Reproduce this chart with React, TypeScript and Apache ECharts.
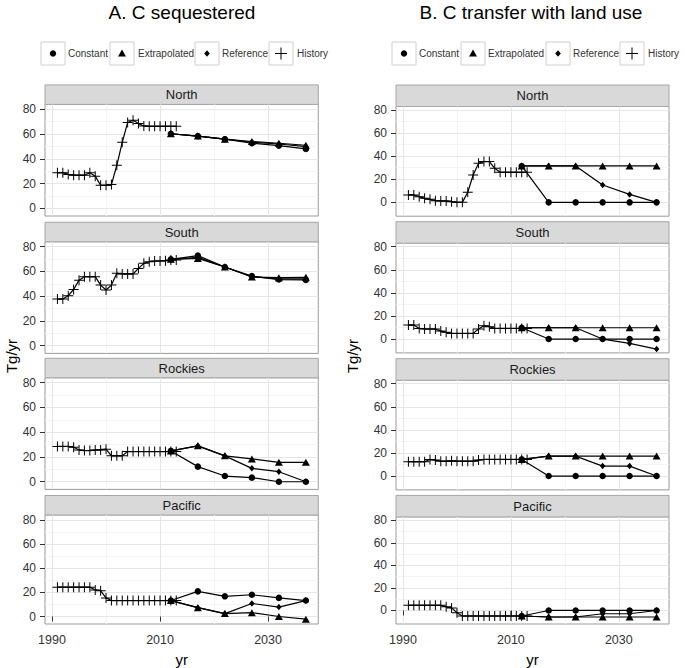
import React, { useEffect, useRef } from "react";
import * as echarts from "echarts";

const historyYears = [1991, 1992, 1993, 1994, 1995, 1996, 1997, 1998, 1999, 2000, 2001, 2002, 2003, 2004, 2005, 2006, 2007, 2008, 2009, 2010, 2011, 2012, 2013];
const projYears = [2012, 2017, 2022, 2027, 2032, 2037];
const regions = ["North", "South", "Rockies", "Pacific"];
const xTicks = [1990, 2010, 2030];
const yTicks = [0, 20, 40, 60, 80];
const xMinor = [2000, 2020];
const yMinor = [10, 30, 50, 70];
const titles = ["A. C sequestered", "B. C transfer with land use"];
const legendNames = ["Constant", "Extrapolated", "Reference", "History"];

// Column A: C sequestered
const histA_North = [28.8, 28.8, 27.4, 26.8, 26.8, 26.8, 28.8, 26, 18.6, 18.6, 19.2, 34.8, 53.4, 69.3, 71.2, 68.5, 66.6, 66.3, 66.3, 66.3, 66.3, 66.3, 66.3];
const constA_North = [60.3, 58.4, 55.9, 52.6, 50.7, 48];
const extrA_North = [60.3, 58.4, 55.9, 54, 52.6, 51];
const refA_North = [60.3, 58.4, 55.9, 53.4, 52, 49.9];

const histA_South = [37.7, 37.7, 40.4, 45.5, 53, 55.8, 55.8, 55.8, 49, 45, 49, 58.5, 58, 58, 58, 62.5, 66.6, 67.9, 68.5, 68.5, 68.7, 69.3, 69.3];
const constA_South = [69.8, 72.8, 63.6, 56.3, 53.5, 53.2];
const extrA_South = [69.8, 70.6, 63.6, 55.5, 55, 55.3];
const refA_South = [69.8, 71.4, 63.6, 55.8, 54, 54];

const histA_Rockies = [28.5, 28.5, 28.5, 27.9, 25.7, 25.2, 25.2, 25.7, 25.7, 26.3, 20.9, 20.9, 20.9, 24.4, 24.4, 24.4, 24.4, 24.4, 24.4, 24.4, 24.4, 24.4, 24.4];
const constA_Rockies = [24.9, 12.2, 4.6, 3.3, 0, 0];
const extrA_Rockies = [24.9, 29, 20.9, 18.4, 15.7, 15.7];
const refA_Rockies = [24.9, 29, 20.9, 10.8, 8.1, 0];

const histA_Pacific = [24.3, 24.3, 24.3, 24.3, 24.3, 24.3, 24.3, 22, 21.3, 15.4, 13.2, 13.2, 13.2, 13.2, 13.2, 13.2, 13.2, 13.2, 13.2, 13.2, 13.2, 13.2, 13.2];
const constA_Pacific = [13.2, 20.8, 16.7, 18, 15.4, 13.2];
const extrA_Pacific = [13.2, 7.3, 2.4, 3.2, 0, -2.2];
const refA_Pacific = [13.2, 7.3, 2.4, 10.8, 7.8, 13.2];

// Column B: C transfer with land use
const histB_North = [6.4, 6.4, 4.9, 3.5, 2.6, 1.4, 1.2, 1.2, 0.6, 0, 0, 8.7, 23.7, 33.8, 35.3, 35.3, 29.5, 26, 26, 26, 26, 26, 26];
const constB_North = [31.5, 0, 0, 0, 0, 0];
const extrB_North = [31.5, 31.5, 31.5, 31.5, 31.5, 31.5];
const refB_North = [31.5, 31.5, 31.5, 15, 6.9, 0];

const histB_South = [12.1, 12.1, 9.2, 8.7, 8.7, 8.7, 6.9, 5.8, 4.9, 4.9, 4.9, 4.9, 4.9, 8.7, 11.6, 10.7, 9.2, 9.2, 9.2, 9.2, 9.2, 9.2, 9.2];
const constB_South = [9.8, 0, 0, 0, 0, 0];
const extrB_South = [9.8, 9.8, 9.8, 9.8, 9.8, 9.8];
const refB_South = [9.8, 9.8, 9.8, 0, -3.8, -8.7];

const histB_Rockies = [12.4, 12.4, 12.4, 12.4, 14.4, 13.8, 12.9, 12.9, 13.2, 12.9, 12.9, 12.9, 12.9, 13.8, 14.4, 14.4, 14.4, 14.4, 14.4, 14.4, 14.4, 14.4, 14.4];
const constB_Rockies = [14.4, 0, 0, 0, 0, 0];
const extrB_Rockies = [14.4, 17.3, 17.3, 17.3, 17.3, 17.3];
const refB_Rockies = [14.4, 17.3, 17.3, 8.6, 8.6, 0];

const histB_Pacific = [4.6, 4.6, 4.6, 4.6, 4.6, 4.6, 4.6, 3.2, 2.3, -2, -4.9, -4.9, -4.9, -4.9, -4.9, -4.9, -4.9, -4.9, -4.9, -4.9, -4.9, -4.9, -4.9];
const constB_Pacific = [-4.9, 0, 0, 0, 0, 0];
const extrB_Pacific = [-4.9, -5.8, -5.8, -5.8, -5.8, -5.8];
const refB_Pacific = [-4.9, -5.8, -5.8, -2.9, -2.9, 0];

const panelsA = [
  { hist: histA_North, cons: constA_North, extr: extrA_North, ref: refA_North },
  { hist: histA_South, cons: constA_South, extr: extrA_South, ref: refA_South },
  { hist: histA_Rockies, cons: constA_Rockies, extr: extrA_Rockies, ref: refA_Rockies },
  { hist: histA_Pacific, cons: constA_Pacific, extr: extrA_Pacific, ref: refA_Pacific },
];
const panelsB = [
  { hist: histB_North, cons: constB_North, extr: extrB_North, ref: refB_North },
  { hist: histB_South, cons: constB_South, extr: extrB_South, ref: refB_South },
  { hist: histB_Rockies, cons: constB_Rockies, extr: extrB_Rockies, ref: refB_Rockies },
  { hist: histB_Pacific, cons: constB_Pacific, extr: extrB_Pacific, ref: refB_Pacific },
];

const FONT = '"Liberation Sans", Arial, sans-serif';
const PLUS = "path://M4.5,0H5.5V4.5H10V5.5H5.5V10H4.5V5.5H0V4.5H4.5Z";

const cols = [
  { left: 45, width: 273.3, tops: [104.4, 241.8, 377.8, 515], height: 111.6, yMin: -6.2, yMax: 84, stripH: 19.5, panels: panelsA, titleX: 182, legendBoxes: [41, 110, 195, 269], legendTexts: [68, 138, 222, 297], ylabX: 11 },
  { left: 396, width: 273, tops: [106.5, 243.2, 380.2, 516.9], height: 109.7, yMin: -12, yMax: 83, stripH: 21.5, panels: panelsB, titleX: 531, legendBoxes: [392, 461, 546, 620], legendTexts: [419, 488, 573, 648], ylabX: 352 },
];

function zip(xs: number[], ys: number[]) {
  return xs.map((x, i) => [x, ys[i]]);
}

export default function App() {
  const ref = useRef<HTMLDivElement>(null);
  useEffect(() => {
    document.body.style.margin = "0";
    const chart = echarts.init(ref.current!, null, { renderer: "svg" });
    const grid: any[] = [];
    const xAxis: any[] = [];
    const yAxis: any[] = [];
    const series: any[] = [];
    const graphic: any[] = [];
    const mkLine = () => ({ color: "#000", width: 1.2 });

    cols.forEach((c, ci) => {
      graphic.push({ type: "text", x: c.titleX, y: 12, style: { text: titles[ci], font: `19px ${FONT}`, fill: "#000", textAlign: "center", align: "center", textVerticalAlign: "middle", verticalAlign: "middle" } });
      c.legendBoxes.forEach((bx, li) => {
        graphic.push({ type: "rect", shape: { x: bx, y: 42, width: 24, height: 23 }, style: { fill: "#fff", stroke: "#d0d0d0", lineWidth: 1 } });
        const cx = bx + 12, cy = 53.5;
        if (li === 0) graphic.push({ type: "circle", shape: { cx, cy, r: 3.2 }, style: { fill: "#000" } });
        if (li === 1) graphic.push({ type: "polygon", shape: { points: [[cx - 4, cy + 3], [cx + 4, cy + 3], [cx, cy - 4]] }, style: { fill: "#000" } });
        if (li === 2) graphic.push({ type: "polygon", shape: { points: [[cx, cy - 3.2], [cx + 2.8, cy], [cx, cy + 3.2], [cx - 2.8, cy]] }, style: { fill: "#000" } });
        if (li === 3) {
          graphic.push({ type: "line", shape: { x1: cx - 6, y1: cy, x2: cx + 6, y2: cy }, style: { stroke: "#000", lineWidth: 1 } });
          graphic.push({ type: "line", shape: { x1: cx, y1: cy - 6, x2: cx, y2: cy + 6 }, style: { stroke: "#000", lineWidth: 1 } });
        }
        graphic.push({ type: "text", x: c.legendTexts[li], y: cy, style: { text: legendNames[li], font: `10px ${FONT}`, fill: "#333", textVerticalAlign: "middle", verticalAlign: "middle" } });
      });
      graphic.push({ type: "text", x: c.ylabX, y: 356, rotation: Math.PI / 2, style: { text: "Tg/yr", font: `15px ${FONT}`, fill: "#000", textAlign: "center", align: "center", textVerticalAlign: "middle", verticalAlign: "middle" } });

      c.tops.forEach((top, pi) => {
        const gi = ci * 4 + pi;
        const isBottom = pi === 3;
        const p = c.panels[pi];
        grid.push({ left: c.left, top, width: c.width, height: c.height, show: true, borderColor: "#9a9a9a", borderWidth: 1, backgroundColor: "#fff" });
        graphic.push({ type: "rect", shape: { x: c.left, y: top - c.stripH, width: c.width, height: c.stripH }, style: { fill: "#d9d9d9", stroke: "#a6a6a6", lineWidth: 1 } });
        graphic.push({ type: "text", x: c.left + c.width / 2, y: top - c.stripH / 2, style: { text: regions[pi], font: `13px ${FONT}`, fill: "#1a1a1a", textAlign: "center", align: "center", textVerticalAlign: "middle", verticalAlign: "middle" } });
        xAxis.push({
          gridIndex: gi, type: "value", min: 1988.7, max: 2039.3,
          axisLine: { show: false }, splitLine: { show: false },
          axisTick: { show: isBottom, length: 5, customValues: xTicks, lineStyle: { color: "#333" } },
          axisLabel: { show: isBottom, customValues: xTicks, margin: 9, fontSize: 12.5, color: "#333", fontFamily: FONT, formatter: (v: number) => String(v) },
          name: isBottom ? "yr" : "", nameLocation: "middle", nameGap: 28,
          nameTextStyle: { fontSize: 15, color: "#000", fontFamily: FONT },
        });
        yAxis.push({
          gridIndex: gi, type: "value", min: c.yMin, max: c.yMax,
          axisLine: { show: false }, splitLine: { show: false },
          axisTick: { show: true, length: 5, customValues: yTicks, lineStyle: { color: "#333" } },
          axisLabel: { customValues: yTicks, margin: 9, fontSize: 12, color: "#333", fontFamily: FONT, formatter: (v: number) => String(v) },
        });
        const mk: any[] = [];
        xMinor.forEach((v) => mk.push({ xAxis: v, lineStyle: { color: "#f4f4f4", width: 1, type: "solid" } }));
        yMinor.forEach((v) => mk.push({ yAxis: v, lineStyle: { color: "#f4f4f4", width: 1, type: "solid" } }));
        xTicks.forEach((v) => mk.push({ xAxis: v, lineStyle: { color: "#e6e6e6", width: 1, type: "solid" } }));
        yTicks.forEach((v) => mk.push({ yAxis: v, lineStyle: { color: "#e6e6e6", width: 1, type: "solid" } }));
        series.push({
          type: "line", xAxisIndex: gi, yAxisIndex: gi, data: [], silent: true, z: 0,
          markLine: { silent: true, z: 0, symbol: ["none", "none"], label: { show: false }, animation: false, lineStyle: { type: "solid", color: "#e6e6e6", width: 1 }, data: mk },
        });
        series.push({
          name: "History", type: "line", xAxisIndex: gi, yAxisIndex: gi, z: 3,
          data: zip(historyYears, p.hist), symbol: PLUS, symbolSize: 10, showSymbol: true,
          itemStyle: { color: "#000" }, lineStyle: mkLine(),
        });
        series.push({
          name: "Constant", type: "line", xAxisIndex: gi, yAxisIndex: gi, z: 3,
          data: zip(projYears, p.cons), symbol: "circle", symbolSize: 6.5,
          itemStyle: { color: "#000" }, lineStyle: mkLine(),
        });
        series.push({
          name: "Extrapolated", type: "line", xAxisIndex: gi, yAxisIndex: gi, z: 3,
          data: zip(projYears, p.extr), symbol: "triangle", symbolSize: [8, 7],
          itemStyle: { color: "#000" }, lineStyle: mkLine(),
        });
        series.push({
          name: "Reference", type: "line", xAxisIndex: gi, yAxisIndex: gi, z: 3,
          data: zip(projYears, p.ref), symbol: "diamond", symbolSize: [5.5, 6.5],
          itemStyle: { color: "#000" }, lineStyle: mkLine(),
        });
      });
    });

    chart.setOption({
      animation: false,
      backgroundColor: "#fff",
      grid, xAxis, yAxis, series, graphic,
    });
    return () => chart.dispose();
  }, []);
  return <div ref={ref} style={{ width: 685, height: 668 }} />;
}
